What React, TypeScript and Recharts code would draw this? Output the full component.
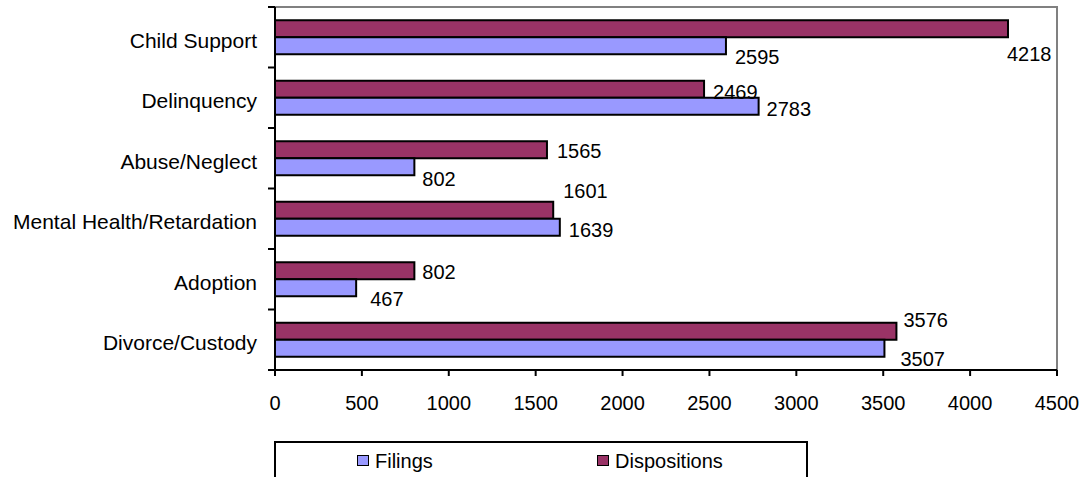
import { Bar, BarChart, LabelList, ReferenceArea, XAxis, YAxis } from "recharts";

const categories = [
  "Child Support",
  "Delinquency",
  "Abuse/Neglect",
  "Mental Health/Retardation",
  "Adoption",
  "Divorce/Custody",
];
const filings = [2595, 2783, 802, 1639, 467, 3507];
const dispositions = [4218, 2469, 1565, 1601, 802, 3576];
const xTicks = [0, 500, 1000, 1500, 2000, 2500, 3000, 3500, 4000, 4500];

// label nudges (dx from bar end, dy from bar centre), like the Excel auto-placement
const filingsNudge: [number, number][] = [
  [9, 11],
  [8, 3],
  [8, 12],
  [9, 3],
  [14, 11],
  [16, 11],
];
const dispositionsNudge: [number, number][] = [
  [-1, 25],
  [9, 3],
  [10, 1],
  [10, -19],
  [8, 1],
  [7, -11],
];

const data = categories.map((name, i) => ({
  name,
  filings: filings[i],
  dispositions: dispositions[i],
}));

const FONT = "'Liberation Sans', Arial, sans-serif";
const WIDTH = 1092;
const HEIGHT = 477;
const MARGIN = { top: 7, right: 35, bottom: 67, left: 0 };
const Y_AXIS_W = 275;
const X_AXIS_H = 40;
const PLOT_LEFT = MARGIN.left + Y_AXIS_W;
const PLOT_H = HEIGHT - MARGIN.top - MARGIN.bottom - X_AXIS_H;
const BAND = PLOT_H / categories.length;

const FILINGS_COLOR = "#9999FF";
const DISPOSITIONS_COLOR = "#993366";

function CategoryTick(props: any) {
  const { y, payload, index } = props;
  const isLast = index === categories.length - 1;
  return (
    <g>
      <line
        x1={PLOT_LEFT - 7}
        x2={PLOT_LEFT}
        y1={y - BAND / 2}
        y2={y - BAND / 2}
        stroke="#000"
        strokeWidth={2}
      />
      {isLast && (
        <line
          x1={PLOT_LEFT - 7}
          x2={PLOT_LEFT}
          y1={y + BAND / 2}
          y2={y + BAND / 2}
          stroke="#000"
          strokeWidth={2}
        />
      )}
      <text
        x={PLOT_LEFT - 18}
        y={y + 10.5}
        textAnchor="end"
        fill="#000"
        fontSize={21}
        fontFamily={FONT}
      >
        {payload.value}
      </text>
    </g>
  );
}

function makeLabel(nudges: [number, number][]) {
  return (props: any) => {
    const { x, y, width, height, value, index } = props;
    const [dx, dy] = nudges[index] ?? [8, 0];
    return (
      <text
        x={Number(x) + Number(width) + dx}
        y={Number(y) + Number(height) / 2 + dy + 7}
        fill="#000"
        fontSize={20}
        fontFamily={FONT}
      >
        {value}
      </text>
    );
  };
}

function LegendBox() {
  const swatch = (color: string) => ({
    position: "absolute" as const,
    top: 12,
    width: 10,
    height: 9,
    background: color,
    border: "1.5px solid #000",
  });
  const label = {
    position: "absolute" as const,
    top: 7,
    fontSize: 20,
    fontFamily: FONT,
    color: "#000",
    lineHeight: "23px",
  };
  return (
    <div
      style={{
        position: "absolute",
        left: 274,
        top: 441,
        width: 530,
        height: 60,
        borderTop: "2px solid #000",
        borderLeft: "2px solid #000",
        borderRight: "2px solid #000",
      }}
    >
      <div style={{ ...swatch(FILINGS_COLOR), left: 81 }} />
      <div style={{ ...label, left: 99 }}>Filings</div>
      <div style={{ ...swatch(DISPOSITIONS_COLOR), left: 321 }} />
      <div style={{ ...label, left: 339 }}>Dispositions</div>
    </div>
  );
}

export default function App() {
  return (
    <div
      style={{
        position: "absolute",
        left: 0,
        top: 0,
        width: WIDTH,
        height: HEIGHT,
        overflow: "hidden",
        background: "#fff",
      }}
    >
      <BarChart
        width={WIDTH}
        height={HEIGHT}
        data={data}
        layout="vertical"
        margin={MARGIN}
        barCategoryGap="22%"
        barGap={0}
      >
        <ReferenceArea
          x1={0}
          x2={4500}
          fill="none"
          stroke="#808080"
          strokeWidth={2}
          ifOverflow="visible"
        />
        <Bar
          dataKey="dispositions"
          name="Dispositions"
          fill={DISPOSITIONS_COLOR}
          stroke="#000"
          strokeWidth={2}
          isAnimationActive={false}
        >
          <LabelList dataKey="dispositions" content={makeLabel(dispositionsNudge)} />
        </Bar>
        <Bar
          dataKey="filings"
          name="Filings"
          fill={FILINGS_COLOR}
          stroke="#000"
          strokeWidth={2}
          isAnimationActive={false}
        >
          <LabelList dataKey="filings" content={makeLabel(filingsNudge)} />
        </Bar>
        <XAxis
          type="number"
          domain={[0, 4500]}
          ticks={xTicks}
          interval={0}
          height={X_AXIS_H}
          tickSize={6}
          tickMargin={20}
          axisLine={{ stroke: "#000", strokeWidth: 2 }}
          tickLine={{ stroke: "#000", strokeWidth: 2 }}
          tick={{ fill: "#000", fontSize: 20, fontFamily: FONT }}
        />
        <YAxis
          type="category"
          dataKey="name"
          width={Y_AXIS_W}
          interval={0}
          tickLine={false}
          axisLine={{ stroke: "#000", strokeWidth: 2 }}
          tick={(props: any) => <CategoryTick {...props} />}
        />
      </BarChart>
      <LegendBox />
    </div>
  );
}
